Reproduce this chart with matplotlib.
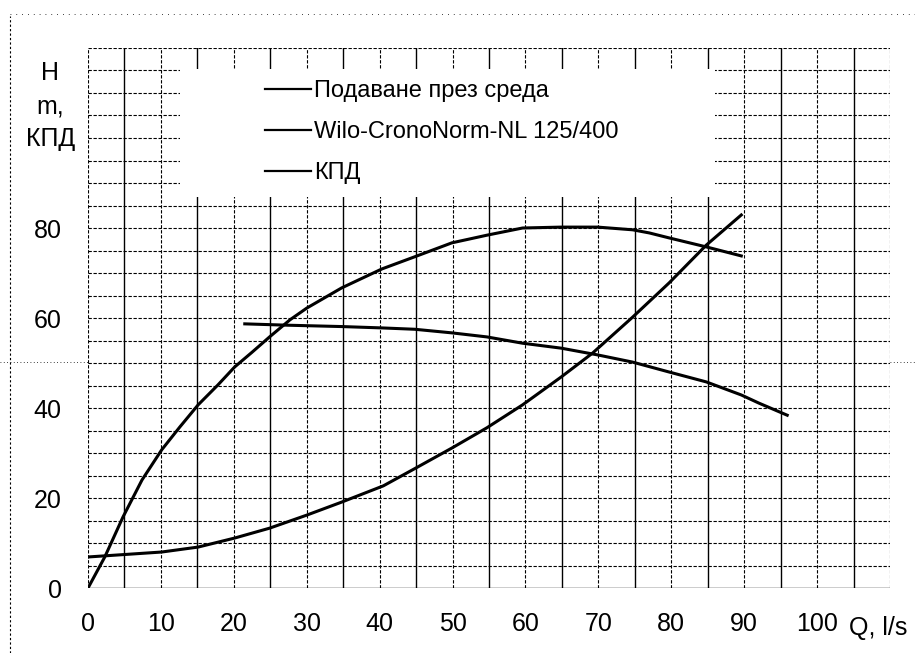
import numpy as np
import matplotlib
matplotlib.use("Agg")
import matplotlib.pyplot as plt
from matplotlib.patches import Rectangle
from matplotlib.lines import Line2D

plt.rcParams['font.family'] = ['Liberation Sans', 'DejaVu Sans']

# efficiency curve (КПД), starts at origin
eff_q = [0, 2.3, 4.8, 7.4, 10.1, 12.6, 15.1, 17.8, 20.1, 22.5, 24.9, 27.7, 30, 34.8,
         40.3, 44.8, 49.9, 54.7, 59.6, 64.9, 69.9, 74.7, 77, 79.7, 84.8, 89.6]
eff_v = [0, 6.9, 15.8, 24, 30.7, 35.8, 40.7, 45.1, 49.1, 52.4, 55.8, 59.6, 62.2, 66.7,
         70.9, 73.6, 76.7, 78.4, 80, 80.2, 80.2, 79.6, 78.9, 77.8, 75.8, 73.8]

# pump curve Wilo-CronoNorm-NL 125/400
pump_q = [21.5, 27.4, 34.8, 40.3, 44.8, 49.9, 54.7, 59.6, 64.9, 69.9, 74.7, 79.7, 84.8,
          89.6, 92, 95.9]
pump_h = [58.7, 58.4, 58.1, 57.8, 57.5, 56.7, 55.8, 54.4, 53.3, 51.8, 50.2, 48, 45.8,
          42.9, 41.1, 38.4]

# system curve (Подаване през среда)
sys_q = [0, 10.1, 15.1, 20.1, 24.9, 30, 34.8, 40.5, 45, 49.9, 54.7, 59.6, 64.9, 69.2,
         74.7, 79.7, 84.8, 89.6]
sys_h = [6.9, 8, 9.1, 11.1, 13.3, 16.2, 19.1, 22.7, 26.7, 31.1, 35.6, 40.7, 46.9, 52.2,
         60.2, 67.8, 76.2, 82.9]

labels = ['Подаване през среда', 'Wilo-CronoNorm-NL 125/400', 'КПД']
x_ticks = list(range(0, 101, 10))
y_ticks = [0, 20, 40, 60, 80]

fig = plt.figure(figsize=(9.15, 6.53), dpi=100)
ax = fig.add_axes([0.0962, 0.0995, 0.8765, 0.827])
ax.set_xlim(0, 110)
ax.set_ylim(0, 120)

# hand-drawn looking grid
for xv in np.arange(0, 111, 5):
    solid = (xv % 10 == 5)
    ax.axvline(xv, color='black', lw=1.0 if solid else 0.8,
               ls='-' if solid else (0, (3, 1.5)), zorder=1)
for yv in np.arange(5, 121, 5):
    ax.axhline(yv, color='black', lw=0.8, ls=(0, (3, 1.5)), zorder=1)
ax.axhline(0, color='black', lw=1.0, zorder=1)

# white area under the legend
ax.add_patch(Rectangle((12.6, 87), 73.4, 28.3, facecolor='white',
                       edgecolor='none', zorder=2))

lw = 2.2
ax.plot(sys_q, sys_h, color='black', lw=lw, zorder=3, solid_joinstyle='round')
ax.plot(pump_q, pump_h, color='black', lw=lw, zorder=3, solid_joinstyle='round')
ax.plot(eff_q, eff_v, color='black', lw=lw, zorder=3, solid_joinstyle='round')

handles = [Line2D([], [], color='black', lw=1.6) for _ in labels]
leg = ax.legend(handles, labels, loc='upper left', bbox_to_anchor=(0.221, 0.94),
                frameon=False, fontsize=17, handlelength=1.95, handletextpad=0.12,
                labelspacing=0.8, borderpad=0, borderaxespad=0)
leg.set_zorder(4)

for s in ax.spines.values():
    s.set_visible(False)
ax.set_xticks(x_ticks)
ax.set_yticks(y_ticks)
ax.tick_params(length=0, labelsize=18)
ax.tick_params(axis='x', pad=17)
ax.tick_params(axis='y', pad=19)

ax.text(-0.047, 0.975, 'H\nm,\nКПД', transform=ax.transAxes, ha='center',
        va='top', fontsize=18, linespacing=1.45)
ax.text(0.985, -0.074, 'Q, l/s', transform=ax.transAxes, ha='center',
        va='center', fontsize=18)

# scan page edges
fig.add_artist(Line2D([0.011, 0.011], [0.0, 0.975], color='black', lw=0.8,
                      ls=(0, (2, 2)), transform=fig.transFigure))
fig.add_artist(Line2D([0.011, 1.0], [0.978, 0.978], color='black', lw=0.6,
                      ls=(0, (1, 6)), transform=fig.transFigure))
fig.add_artist(Line2D([0.0, 1.0], [0.446, 0.446], color='black', lw=0.6,
                      ls=(0, (1, 3)), transform=fig.transFigure, zorder=0))

fig.savefig('out.png', dpi=100)
